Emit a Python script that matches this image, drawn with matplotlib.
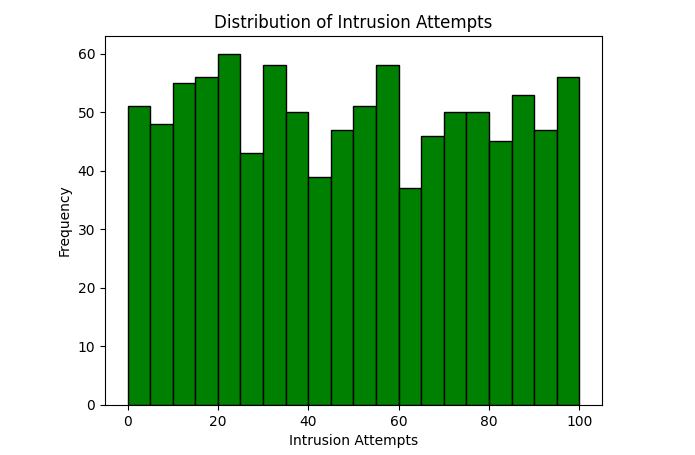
import numpy as np
import matplotlib
matplotlib.use('Agg')
import matplotlib.pyplot as plt

# bin edges and counts
bin_edges = np.linspace(0, 100, 21)
counts = [51, 48, 55, 56, 60, 43, 58, 50, 39, 47,
          51, 58, 37, 46, 50, 50, 45, 53, 47, 56]

centers = (bin_edges[:-1] + bin_edges[1:]) / 2

fig, ax = plt.subplots(figsize=(6.95, 4.55), dpi=100)
fig.subplots_adjust(left=0.151, right=0.866, top=0.921, bottom=0.110)
ax.hist(centers, bins=bin_edges, weights=counts, color='green', edgecolor='black')
ax.set_title('Distribution of Intrusion Attempts')
ax.set_xlabel('Intrusion Attempts')
ax.set_ylabel('Frequency')
fig.savefig('out.png')
